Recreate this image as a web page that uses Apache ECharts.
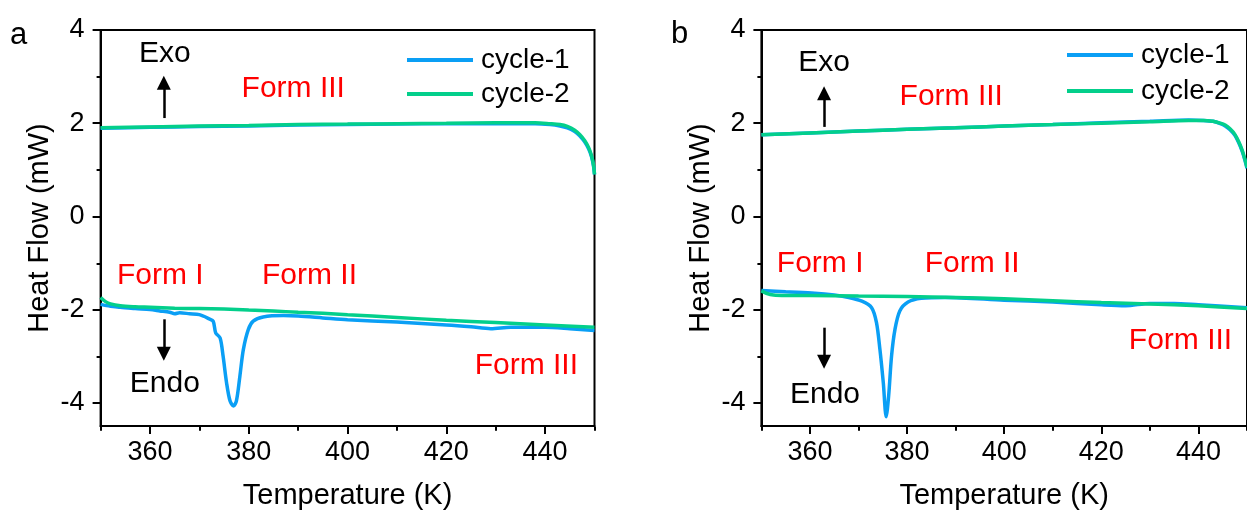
<!DOCTYPE html>
<html>
<head>
<meta charset="utf-8">
<script src="https://cdn.jsdelivr.net/npm/echarts@6/dist/echarts.min.js"></script>
<style>
html,body{margin:0;padding:0;background:#fff;}
#chart{width:1247px;height:515px;}
</style>
</head>
<body>
<div id="chart"></div>
<script>
// ---------- DATA ----------
// Panel a : [Temperature (K), Heat Flow (mW)]
const aCycle1Heat = [[350,-1.89],[352,-1.93],[354,-1.95],[357,-1.98],[360,-2.0],[362,-2.03],[364,-2.06],[365,-2.09],[366,-2.07],[368,-2.09],[370,-2.11],[372,-2.2],[372.8,-2.25],[373.3,-2.5],[374.2,-2.61],[374.8,-3.0],[375.5,-3.57],[376.2,-3.96],[376.9,-4.07],[377.5,-3.96],[378.2,-3.43],[378.9,-2.86],[379.9,-2.43],[380.9,-2.25],[382.9,-2.16],[387,-2.13],[390,-2.14],[395,-2.18],[400,-2.22],[410,-2.27],[420,-2.33],[425,-2.37],[429,-2.41],[433,-2.38],[440,-2.38],[445,-2.41],[450,-2.45]];
const aCycle1Cool = [[350,1.89],[360,1.91],[370,1.93],[380,1.94],[390,1.96],[400,1.97],[410,1.98],[420,1.99],[430,1.99],[438,1.99],[441,1.97],[443,1.94],[444.5,1.9],[446,1.82],[447,1.73],[448,1.6],[448.8,1.45],[449.4,1.28],[449.8,1.08],[450,0.9]];
const aCycle2Heat = [[350,-1.74],[351,-1.83],[352,-1.88],[354,-1.92],[357,-1.94],[360,-1.95],[365,-1.97],[370,-1.98],[375,-1.99],[380,-2.01],[385,-2.03],[390,-2.06],[395,-2.08],[400,-2.11],[410,-2.17],[420,-2.23],[430,-2.28],[440,-2.33],[450,-2.38]];
const aCycle2Cool = [[350,1.9],[360,1.92],[370,1.94],[380,1.95],[390,1.97],[400,1.98],[410,1.99],[420,2.0],[430,2.01],[438,2.01],[441,1.99],[443,1.97],[444.5,1.93],[446,1.85],[447,1.76],[448,1.63],[448.8,1.48],[449.4,1.3],[449.8,1.1],[450,0.9]];
// Panel b
const bCycle1Heat = [[350,-1.59],[355,-1.62],[361,-1.65],[365,-1.69],[368,-1.74],[370.7,-1.82],[372.7,-1.96],[373.7,-2.28],[374.4,-2.85],[375.1,-3.57],[375.7,-4.3],[376.2,-3.86],[376.8,-3.0],[377.5,-2.43],[378.5,-2.03],[380.2,-1.84],[382.9,-1.76],[388,-1.74],[400,-1.8],[410,-1.84],[420,-1.9],[425,-1.92],[430,-1.87],[435,-1.87],[440,-1.9],[450,-1.96]];
const bCycle1Cool = [[350,1.75],[360,1.79],[370,1.83],[380,1.87],[390,1.9],[400,1.94],[410,1.97],[420,2.01],[430,2.04],[438,2.07],[441,2.06],[443,2.04],[444.5,1.99],[445.5,1.94],[446.5,1.86],[447.5,1.74],[448.3,1.58],[449,1.4],[449.5,1.23],[450,1.03]];
const bCycle2Heat = [[350,-1.6],[351,-1.65],[352.5,-1.69],[355,-1.7],[360,-1.7],[370,-1.71],[380,-1.72],[390,-1.74],[400,-1.77],[410,-1.81],[420,-1.85],[430,-1.88],[440,-1.92],[450,-1.98]];
const bCycle2Cool = [[350,1.75],[360,1.79],[370,1.83],[380,1.87],[390,1.9],[400,1.94],[410,1.97],[420,2.0],[430,2.03],[438,2.06],[441,2.06],[443,2.04],[444.5,2.0],[445.5,1.96],[446.5,1.88],[447.5,1.76],[448.3,1.6],[449,1.42],[449.5,1.25],[450,1.05]];

// tick values / labels
const xMajorTicks = [360,380,400,420,440];
const xMinorTicks = [350,370,390,410,430,450];
const yMajorTicks = [-4,-2,0,2,4];
const yMinorTicks = [-3,-1,1,3];
const seriesNames = ['cycle-1','cycle-2'];

// annotations (data coordinates)
const aLabels = [
  {name:'Exo', coord:[363.0,3.48], color:'#000'},
  {name:'Form III', coord:[389.0,2.74], color:'#ff0000'},
  {name:'Form I', coord:[362.1,-1.27], color:'#ff0000'},
  {name:'Form II', coord:[392.3,-1.27], color:'#ff0000'},
  {name:'Endo', coord:[363.0,-3.6], color:'#000'},
  {name:'Form III', coord:[436.2,-3.21], color:'#ff0000'}
];
const bLabels = [
  {name:'Exo', coord:[362.9,3.3], color:'#000'},
  {name:'Form III', coord:[389.1,2.57], color:'#ff0000'},
  {name:'Form I', coord:[362.1,-1.01], color:'#ff0000'},
  {name:'Form II', coord:[393.4,-1.01], color:'#ff0000'},
  {name:'Endo', coord:[363.1,-3.83], color:'#000'},
  {name:'Form III', coord:[436.3,-2.67], color:'#ff0000'}
];
// arrows: [from, to]
const aArrows = [[[362.8,2.11],[362.8,2.87]],[[362.8,-2.21],[362.8,-2.95]]];
const bArrows = [[[362.9,1.92],[362.9,2.64]],[[362.9,-2.39],[362.9,-3.12]]];

// ---------- STYLE ----------
const FONT = 'Liberation Sans, Arial, sans-serif';
const BLUE = '#0a9ff5';
const GREEN = '#03cf8b';

function mainX(gi){
  return {
    type:'value', gridIndex:gi, min:350, max:450,
    axisLine:{show:true, onZero:false, lineStyle:{color:'#000', width:2}},
    axisTick:{show:true, customValues:xMajorTicks, length:8, lineStyle:{color:'#000', width:2}},
    axisLabel:{show:true, customValues:xMajorTicks, fontSize:27, color:'#000', fontFamily:FONT, margin:13},
    splitLine:{show:false},
    name:'Temperature (K)', nameLocation:'middle', nameGap:55,
    nameTextStyle:{fontSize:29, color:'#000', fontFamily:FONT}
  };
}
function minorX(gi){
  return {
    type:'value', gridIndex:gi, min:350, max:450,
    axisLine:{show:false, onZero:false},
    axisTick:{show:true, customValues:xMinorTicks, length:4, lineStyle:{color:'#000', width:2}},
    axisLabel:{show:false}, splitLine:{show:false}
  };
}
function mainY(gi){
  return {
    type:'value', gridIndex:gi, min:-4.5, max:4,
    axisLine:{show:true, onZero:false, lineStyle:{color:'#000', width:2}},
    axisTick:{show:true, customValues:yMajorTicks, length:8, lineStyle:{color:'#000', width:2}},
    axisLabel:{show:true, customValues:yMajorTicks, fontSize:27, color:'#000', fontFamily:FONT, margin:16},
    splitLine:{show:false},
    name:'Heat Flow (mW)', nameLocation:'middle', nameGap:46,
    nameTextStyle:{fontSize:29, color:'#000', fontFamily:FONT}
  };
}
function minorY(gi){
  return {
    type:'value', gridIndex:gi, min:-4.5, max:4,
    axisLine:{show:false, onZero:false},
    axisTick:{show:true, customValues:yMinorTicks, length:4, lineStyle:{color:'#000', width:2}},
    axisLabel:{show:false}, splitLine:{show:false}
  };
}
function lineSeries(name, data, color, axisIdx, extra){
  return Object.assign({
    type:'line', name:name, data:data, xAxisIndex:axisIdx, yAxisIndex:axisIdx,
    showSymbol:false, symbol:'none', smooth:0.3, animation:false, silent:true,
    lineStyle:{color:color, width:3.5}, itemStyle:{color:color}, clip:true
  }, extra||{});
}
function markers(labels, arrows){
  return {
    markPoint:{
      silent:true, animation:false, symbol:'rect', symbolSize:1,
      itemStyle:{color:'rgba(0,0,0,0)'},
      data: labels.map(l => ({name:l.name, coord:l.coord,
        label:{show:true, position:'inside', formatter:'{b}', color:l.color, fontSize:30, fontFamily:FONT}}))
    },
    markLine:{
      silent:true, animation:false, symbol:['none','triangle'], symbolSize:14,
      label:{show:false},
      itemStyle:{color:'#000'},
      lineStyle:{color:'#000', width:2.5, type:'solid'},
      data: arrows.map(a => [{coord:a[0]},{coord:a[1]}])
    }
  };
}

const option = {
  animation:false,
  backgroundColor:'#fff',
  textStyle:{fontFamily:FONT},
  grid:[
    {left:100.6, right:652.5, top:30, bottom:88.3, show:true, borderColor:'#000', borderWidth:2, containLabel:false},
    {left:100.6, right:652.5, top:30, bottom:88.3, show:false},
    {left:761.4, right:-8.4, top:30, bottom:88.3, show:true, borderColor:'#000', borderWidth:2, containLabel:false},
    {left:761.4, right:-8.4, top:30, bottom:88.3, show:false}
  ],
  xAxis:[mainX(0), minorX(1), mainX(2), minorX(3)],
  yAxis:[mainY(0), minorY(1), mainY(2), minorY(3)],
  legend:[
    {data:seriesNames, orient:'vertical', left:407, top:46, padding:0, itemGap:6,
     icon:'rect', itemWidth:66, itemHeight:4, selectedMode:false,
     textStyle:{fontSize:28, color:'#000', fontFamily:FONT, lineHeight:27, padding:[0,0,0,3]}},
    {data:seriesNames, orient:'vertical', left:1067, top:41, padding:0, itemGap:8,
     icon:'rect', itemWidth:66, itemHeight:4, selectedMode:false,
     textStyle:{fontSize:28, color:'#000', fontFamily:FONT, lineHeight:27, padding:[0,0,0,3]}}
  ],
  graphic:[
    {type:'text', left:10, top:20, style:{text:'a', fontSize:31, fill:'#000', font:'31px ' + FONT}},
    {type:'text', left:671, top:19, style:{text:'b', fontSize:31, fill:'#000', font:'31px ' + FONT}}
  ],
  series:[
    lineSeries('cycle-1', aCycle1Heat, BLUE, 0),
    lineSeries('cycle-1', aCycle1Cool, BLUE, 0),
    lineSeries('cycle-2', aCycle2Heat, GREEN, 0),
    lineSeries('cycle-2', aCycle2Cool, GREEN, 0, markers(aLabels, aArrows)),
    lineSeries('cycle-1', bCycle1Heat, BLUE, 2),
    lineSeries('cycle-1', bCycle1Cool, BLUE, 2),
    lineSeries('cycle-2', bCycle2Heat, GREEN, 2),
    lineSeries('cycle-2', bCycle2Cool, GREEN, 2, markers(bLabels, bArrows))
  ]
};
const chart = echarts.init(document.getElementById('chart'), null, {renderer:'canvas'});
chart.setOption(option);
</script>
</body>
</html>
